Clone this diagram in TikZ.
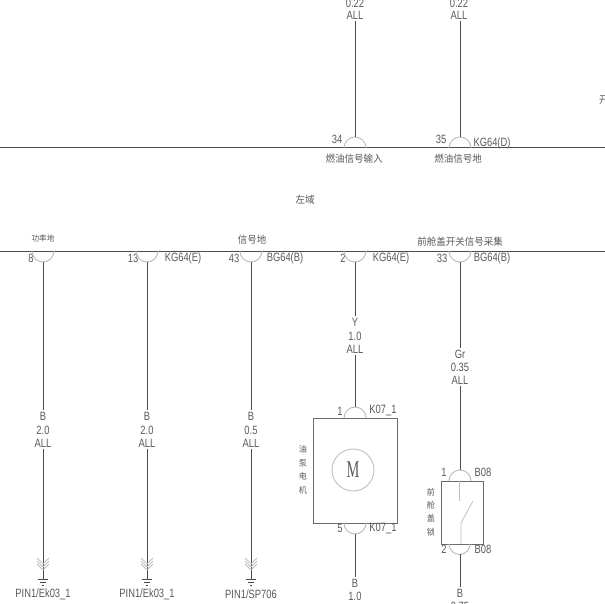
\documentclass[tikz,border=0pt]{standalone}
\usepackage{fontspec}
\setmainfont[FakeStretch=0.78]{Liberation Sans}
\newfontfamily\cjk[FakeStretch=0.95]{Noto Sans CJK SC}
\newfontfamily\motorfont[FakeStretch=0.6]{Liberation Serif}
\usetikzlibrary{positioning}
\definecolor{wirecol}{gray}{0.3}
\definecolor{boxcol}{gray}{0.42}
\definecolor{pincol}{gray}{0.75}
\definecolor{labelcol}{gray}{0.35}
\tikzset{
  lbl/.style={inner sep=0pt,outer sep=1.5pt,text=labelcol,font=\fontsize{12}{12}\selectfont},
  cn/.style={inner sep=0pt,text=labelcol,font=\cjk\fontsize{10}{10}\selectfont},
  cnsmall/.style={inner sep=0pt,text=labelcol,font=\cjk\fontsize{8}{8}\selectfont},
  cnstack/.style={inner sep=0pt,text=labelcol,align=center,font=\cjk\fontsize{8.5}{13.5}\selectfont},
  wire/.style={draw=wirecol,line width=1pt},
  pin/.style={draw=pincol,line width=1pt},
  chev/.style={draw=pincol,line width=0.8pt},
  box/.style={draw=boxcol,line width=1pt}
}
\begin{document}
\begin{tikzpicture}[x=1pt,y=-1pt]
  \useasboundingbox (0,0) rectangle (605,604);
  \clip (0,0) rectangle (605,604);
  % bus lines
  \coordinate (busaL) at (0,148);
  \coordinate (busaR) at (605,148);
  \coordinate (busbL) at (0,251);
  \coordinate (busbR) at (605,251);
  \draw[wire] (busaL) -- (busaR);
  \draw[wire] (busbL) -- (busbR);
  % upper texts
  \node[lbl] at(355,3)(wa1){0.22};
  \node[lbl] at(355,15)(wa2){ALL};
  \node[lbl] at(459,3)(wb1){0.22};
  \node[lbl] at(459,15)(wb2){ALL};
  \node[lbl] at(337,139)(p34){34};
  \node[lbl] at(441,139)(p35){35};
  \node[lbl] at(492,143)(kgd){KG64(D)};
  \node[cn] at(354,159)(fuelin){燃油信号输入};
  \node[cn] at(458,159)(fuelgnd){燃油信号地};
  \node[cn] at(305,200)(zone){左域};
  \node[cn,anchor=west] at(599,100)(cut){开};
  % lower texts
  \node[cnsmall] at(43,238)(pwr){功率地};
  \node[cn] at(252,240)(siggnd){信号地};
  \node[cn] at(460,242)(hood){前舱盖开关信号采集};
  \node[lbl] at(31,258)(p8){8};
  \node[lbl] at(133,258)(p13){13};
  \node[lbl] at(183,258)(kge1){KG64(E)};
  \node[lbl] at(234,258)(p43){43};
  \node[lbl] at(285,258)(bgb1){BG64(B)};
  \node[lbl] at(343,258)(p2){2};
  \node[lbl] at(391,258)(kge2){KG64(E)};
  \node[lbl] at(442,258)(p33){33};
  \node[lbl] at(492,258)(bgb2){BG64(B)};
  % wire labels
  \node[lbl] at(43,416)(c1){B};
  \node[lbl] at(43,430)(s1){2.0};
  \node[lbl] at(43,443)(a1){ALL};
  \node[lbl] at(147,416)(c2){B};
  \node[lbl] at(147,430)(s2){2.0};
  \node[lbl] at(147,443)(a2){ALL};
  \node[lbl] at(251,416)(c3){B};
  \node[lbl] at(251,430)(s3){0.5};
  \node[lbl] at(251,443)(a3){ALL};
  \node[lbl] at(355,322)(c4){Y};
  \node[lbl] at(355,336)(s4){1.0};
  \node[lbl] at(355,349)(a4){ALL};
  \node[lbl] at(460,354)(c5){Gr};
  \node[lbl] at(460,367)(s5){0.35};
  \node[lbl] at(460,380)(a5){ALL};
  \node[lbl] at(355,583)(c6){B};
  \node[lbl] at(355,596)(s6){1.0};
  \node[lbl] at(460,593)(c7){B};
  \node[lbl] at(460,606)(s7){0.75};
  % ground labels
  \node[lbl] at(43,594)(g1){PIN1/Ek03\_1};
  \node[lbl] at(147,594)(g2){PIN1/Ek03\_1};
  \node[lbl] at(251,594)(g3){PIN1/SP706};
  % pin points
  \coordinate (t1) at (355,137);
  \coordinate (t2) at (460,137);
  \coordinate (b1) at (43,262);
  \coordinate (b2) at (147,262);
  \coordinate (b3) at (251,262);
  \coordinate (b4) at (355,262);
  \coordinate (b5) at (460,262);
  % pin arcs
  \draw[pin] (344,148) arc[start angle=180,end angle=360,radius=11];
  \draw[pin] (449,148) arc[start angle=180,end angle=360,radius=11];
  \foreach \px in {43,147,251,355,460}
    \draw[pin] (\px-11,251) arc[start angle=180,end angle=360,x radius=11,y radius=-11];
  % upper wires
  \coordinate (ta1) at (355,21);
  \coordinate (ta2) at (460,21);
  \draw[wire] (ta1) -- (t1);
  \draw[wire] (ta2) -- (t2);
  % ground wires
  \coordinate (gnd1) at (43,580);
  \coordinate (gnd2) at (147,580);
  \coordinate (gnd3) at (251,580);
  \draw[wire] (b1) -- (c1);
  \draw[wire] (a1) -- (gnd1);
  \draw[wire] (b2) -- (c2);
  \draw[wire] (a2) -- (gnd2);
  \draw[wire] (b3) -- (c3);
  \draw[wire] (a3) -- (gnd3);
  % ground symbols
  \foreach \gx in {43,147,251}{
    \foreach \gy in {558,561,564}
      \draw[chev] (\gx-6,\gy) -- (\gx,\gy+6) -- (\gx+6,\gy);
    \draw[wire] (\gx-5,579) -- (\gx+5,579);
    \draw[wire] (\gx-3,582) -- (\gx+3,582);
    \draw[wire] (\gx-1,585) -- (\gx+1,585);
  }
  % motor
  \node[box,minimum width=84pt,minimum height=105pt,inner sep=0pt] at(355.5,470.5)(motor){};
  \node[draw=pincol,line width=0.9pt,circle,minimum size=42pt,inner sep=0pt,text=labelcol,font=\motorfont\fontsize{24}{24}\selectfont] at(353,470)(mot){M};
  \node[cnstack] at(303,470)(motname){油\\泵\\电\\机};
  \node[lbl] at(340,411)(m1){1};
  \node[lbl] at(383,411)(mk1){K07\_1};
  \node[lbl] at(340,528)(m5){5};
  \node[lbl] at(383,528)(mk2){K07\_1};
  \coordinate (mt) at (355,407);
  \coordinate (mb) at (355,534);
  \draw[pin] (344,418) arc[start angle=180,end angle=360,radius=11];
  \draw[pin] (344,523) arc[start angle=180,end angle=360,x radius=11,y radius=-11];
  \draw[wire] (b4) -- (c4);
  \draw[wire] (a4) -- (mt);
  \draw[wire] (mb) -- (c6);
  % hood switch
  \node[box,minimum width=42pt,minimum height=63pt,inner sep=0pt] at(462,512.5)(lock){};
  \node[cnstack] at(431,512)(lockname){前\\舱\\盖\\锁};
  \node[lbl] at(444,472)(l1){1};
  \node[lbl] at(483,472)(lb1){B08};
  \node[lbl] at(444,549)(l2){2};
  \node[lbl] at(483,549)(lb2){B08};
  \coordinate (lt) at (460,470);
  \coordinate (lb) at (460,554);
  \coordinate (sw1) at (459,481);
  \coordinate (sw2) at (459,501);
  \coordinate (sw3) at (461,523);
  \coordinate (sw4) at (461,544);
  \coordinate (sw5) at (473,501);
  \draw[pin] (449,481) arc[start angle=180,end angle=360,radius=11];
  \draw[pin] (449,544) arc[start angle=180,end angle=360,x radius=10.5,y radius=-10.5];
  \draw[chev] (sw1) -- (sw2);
  \draw[chev] (sw4) -- (sw3) -- (sw5);
  \draw[wire] (b5) -- (c5);
  \draw[wire] (a5) -- (lt);
  \draw[wire] (lb) -- (c7);
\end{tikzpicture}
\end{document}
